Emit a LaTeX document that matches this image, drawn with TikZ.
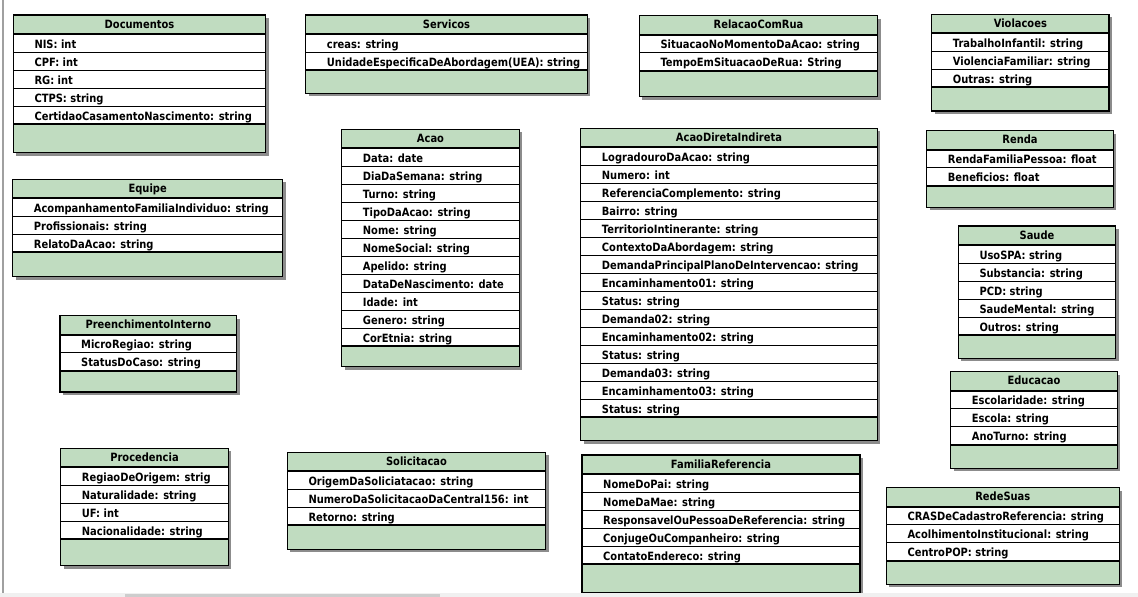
\documentclass[tikz,border=0pt]{standalone}
\usepackage{fontspec}
\newfontfamily\umlfont[FakeStretch=0.87]{DejaVu Sans}
\definecolor{umlgreen}{HTML}{C0DCC0}
\definecolor{shadowc}{HTML}{8C8C8C}
\definecolor{edgegray}{HTML}{A0A0A0}
\definecolor{scrollbg}{HTML}{F0F0F0}
\definecolor{scrollthumb}{HTML}{CDCDCD}
\tikzset{
  titletext/.style={anchor=base, inner sep=0pt, font=\umlfont\bfseries\fontsize{11.4}{13}\selectfont},
  rowtext/.style={anchor=base west, inner sep=0pt, font=\umlfont\bfseries\fontsize{11.4}{13}\selectfont},
  outline/.style={draw=black, line width=1.5pt},
  thicksep/.style={draw=black, line width=2.1pt},
  thinsep/.style={draw=black, line width=1pt},
}
\newcommand{\umlclass}[7]{%
  \fill[shadowc] ({#2+3},{#3+3}) rectangle ({#4+3},{#5+3});
  \fill[white] (#2,#3) rectangle (#4,#5);
  \fill[umlgreen] (#2,#3) rectangle (#4,{#3+19});
  \node[titletext] (#1) at ({(#2+#4)/2},{#3+13}) {#6};
  \foreach \r [count=\i] in {#7} {
    \pgfmathsetmacro\ytop{#3+19+18*(\i-1)}
    \pgfmathsetmacro\ybot{\ytop+18}
    \node[rowtext] (#1-\i) at ({#2+21},{\ytop+14}) {\r};
    \draw[thinsep] (#2,\ybot) -- (#4,\ybot);
    \xdef\lastrowbottom{\ybot}
  }
  \fill[umlgreen] (#2,\lastrowbottom) rectangle (#4,#5);
  \draw[thicksep] (#2,{#3+19}) -- (#4,{#3+19});
  \draw[thicksep] (#2,\lastrowbottom) -- (#4,\lastrowbottom);
  \draw[outline] (#2,#3) rectangle (#4,#5);
}
\begin{document}
\begin{tikzpicture}[x=1pt,y=-1pt]
\useasboundingbox[fill=white] (0,0) rectangle (1138,597);
\draw[edgegray, line width=1.2pt] (3,0) -- (3,593);

\umlclass{doc}{13.3}{15}{265.7}{152.7}{Documentos}{NIS: int, CPF: int, RG: int, CTPS: string, CertidaoCasamentoNascimento: string}
\umlclass{serv}{305.7}{15}{587.3}{93.3}{Servicos}{creas: string, {UnidadeEspecificaDeAbordagem(UEA): string}}
\umlclass{rel}{639.3}{15.7}{877.7}{96.7}{RelacaoComRua}{SituacaoNoMomentoDaAcao: string, TempoEmSituacaoDeRua: String}
\umlclass{viol}{931.7}{14.3}{1109}{111}{Violacoes}{TrabalhoInfantil: string, ViolenciaFamiliar: string, Outras: string}
\umlclass{renda}{926.7}{130.7}{1113.3}{207.3}{Renda}{RendaFamiliaPessoa: float, Beneficios: float}
\umlclass{adi}{580.7}{128.3}{877.3}{440.7}{AcaoDiretaIndireta}{LogradouroDaAcao: string, Numero: int, ReferenciaComplemento: string, Bairro: string, TerritorioIntinerante: string, ContextoDaAbordagem: string, DemandaPrincipalPlanoDeIntervencao: string, Encaminhamento01: string, Status: string, Demanda02: string, Encaminhamento02: string, Status: string, Demanda03: string, Encaminhamento03: string, Status: string}
\umlclass{acao}{341.7}{129.3}{519.3}{366.7}{Acao}{Data: date, DiaDaSemana: string, Turno: string, TipoDaAcao: string, Nome: string, NomeSocial: string, Apelido: string, DataDeNascimento: date, Idade: int, Genero: string, CorEtnia: string}
\umlclass{equipe}{12.7}{179.3}{282.7}{276.7}{Equipe}{AcompanhamentoFamiliaIndividuo: string, Profissionais: string, RelatoDaAcao: string}
\umlclass{pre}{60}{315.7}{236.7}{392}{PreenchimentoInterno}{MicroRegiao: string, StatusDoCaso: string}
\umlclass{proc}{60.7}{448.3}{228.3}{565.7}{Procedencia}{RegiaoDeOrigem: strig, Naturalidade: string, UF: int, Nacionalidade: string}
\umlclass{sol}{287.3}{452.3}{545.7}{549.3}{Solicitacao}{OrigemDaSoliciatacao: string, NumeroDaSolicitacaoDaCentral156: int, Retorno: string}
\umlclass{fam}{582}{455}{859.9}{592.7}{FamiliaReferencia}{NomeDoPai: string, NomeDaMae: string, ResponsavelOuPessoaDeReferencia: string, ConjugeOuCompanheiro: string, ContatoEndereco: string}
\umlclass{rede}{886.3}{487.7}{1119.3}{584.3}{RedeSuas}{CRASDeCadastroReferencia: string, AcolhimentoInstitucional: string, CentroPOP: string}
\umlclass{saude}{958.3}{226}{1115.7}{358.3}{Saude}{UsoSPA: string, Substancia: string, PCD: string, SaudeMental: string, Outros: string}
\umlclass{edu}{950.7}{371.7}{1117.3}{468.3}{Educacao}{Escolaridade: string, Escola: string, AnoTurno: string}

\fill[scrollbg] (0,593) rectangle (1138,597);
\fill[scrollthumb] (125,594) rectangle (440,597);
\end{tikzpicture}
\end{document}
